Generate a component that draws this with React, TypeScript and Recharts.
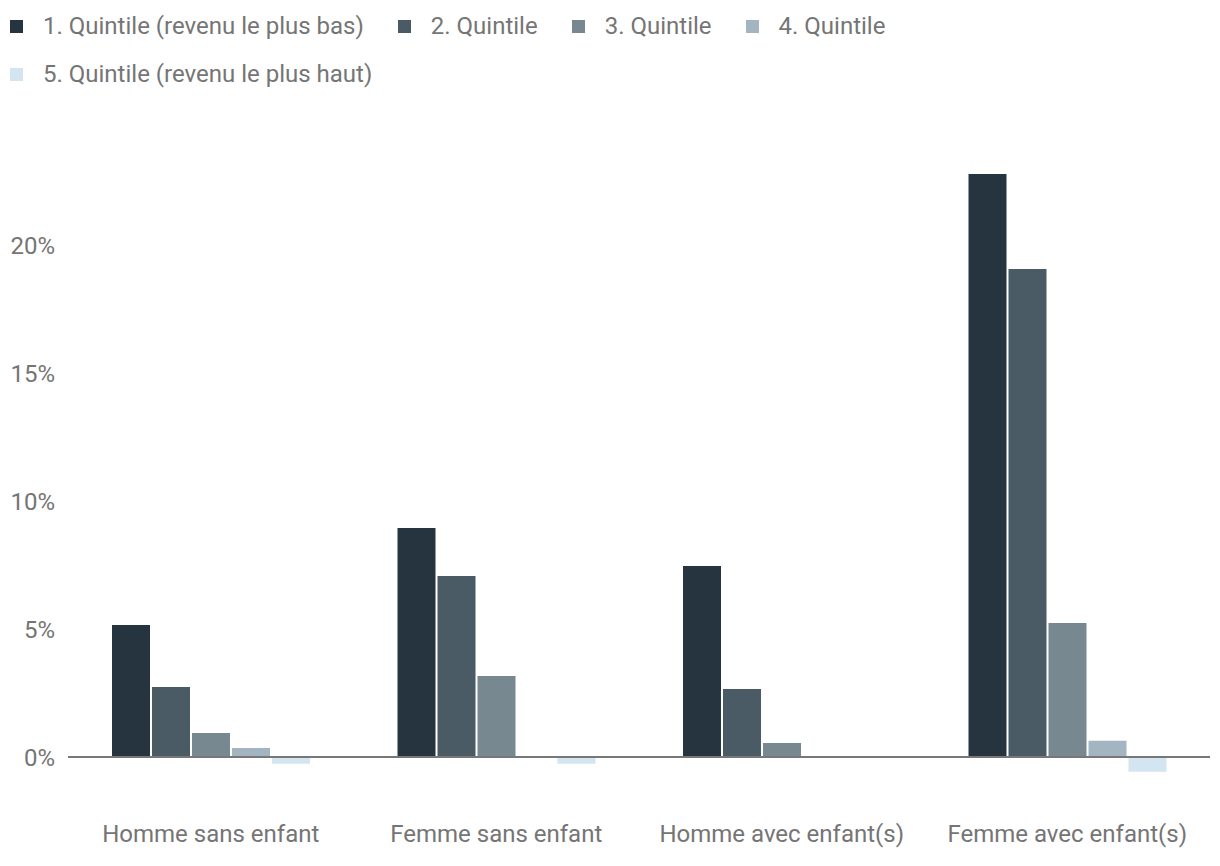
import { BarChart, Bar, XAxis, YAxis, ReferenceLine } from "recharts";

const categories = [
  "Homme sans enfant",
  "Femme sans enfant",
  "Homme avec enfant(s)",
  "Femme avec enfant(s)",
];

const seriesNames = [
  "1. Quintile (revenu le plus bas)",
  "2. Quintile",
  "3. Quintile",
  "4. Quintile",
  "5. Quintile (revenu le plus haut)",
];

const q1 = [5.16, 8.95, 7.46, 22.77];
const q2 = [2.73, 7.07, 2.66, 19.06];
const q3 = [0.94, 3.16, 0.55, 5.23];
const q4 = [0.35, 0, 0, 0.63];
const q5 = [-0.26, -0.26, 0, -0.58];

const yTicks = [0, 5, 10, 15, 20];

const colors = ["#263440", "#4b5b66", "#788891", "#a3b5c1", "#d3e5f0"];
const textColor = "#757575";
const font = "Roboto, sans-serif";

const seriesValues = [q1, q2, q3, q4, q5];
const keys = ["q1", "q2", "q3", "q4", "q5"];

const data = categories.map((name, i) => {
  const row: Record<string, string | number> = { name };
  keys.forEach((k, s) => {
    row[k] = seriesValues[s][i];
  });
  return row;
});

function LegendBlock() {
  return (
    <div
      style={{
        position: "absolute",
        left: 10,
        top: 2,
        width: 1200,
        display: "flex",
        flexWrap: "wrap",
        fontFamily: font,
        fontSize: 24,
        color: textColor,
      }}
    >
      {seriesNames.map((n, i) => (
        <div
          key={n}
          style={{
            display: "flex",
            alignItems: "center",
            height: 48,
            marginRight: 34,
          }}
        >
          <span
            style={{
              display: "inline-block",
              width: 13,
              height: 13,
              background: colors[i],
              marginRight: 20,
            }}
          />
          <span>{n}</span>
        </div>
      ))}
    </div>
  );
}

export default function App() {
  return (
    <div
      style={{
        position: "absolute",
        left: 0,
        top: 0,
        width: 1220,
        height: 866,
        background: "#fff",
      }}
    >
      <BarChart
        width={1220}
        height={866}
        data={data}
        margin={{ top: 142.6, right: 10, left: 0, bottom: 27.8 }}
        barSize={38}
        barGap={2}
      >
        <XAxis
          dataKey="name"
          axisLine={false}
          tickLine={false}
          tickMargin={11}
          height={30}
          tick={{ fill: textColor, fontSize: 24, fontFamily: font }}
        />
        <YAxis
          domain={[-2, 24]}
          ticks={yTicks}
          width={68}
          axisLine={false}
          tickLine={false}
          tickMargin={7}
          tickFormatter={(v) => `${v}%`}
          tick={{ fill: textColor, fontSize: 24, fontFamily: font }}
        />
        {keys.map((k, i) => (
          <Bar
            key={k}
            dataKey={k}
            name={seriesNames[i]}
            fill={colors[i]}
            isAnimationActive={false}
          />
        ))}
        <ReferenceLine y={0} stroke="#777777" strokeWidth={2} />
      </BarChart>
      <LegendBlock />
    </div>
  );
}
